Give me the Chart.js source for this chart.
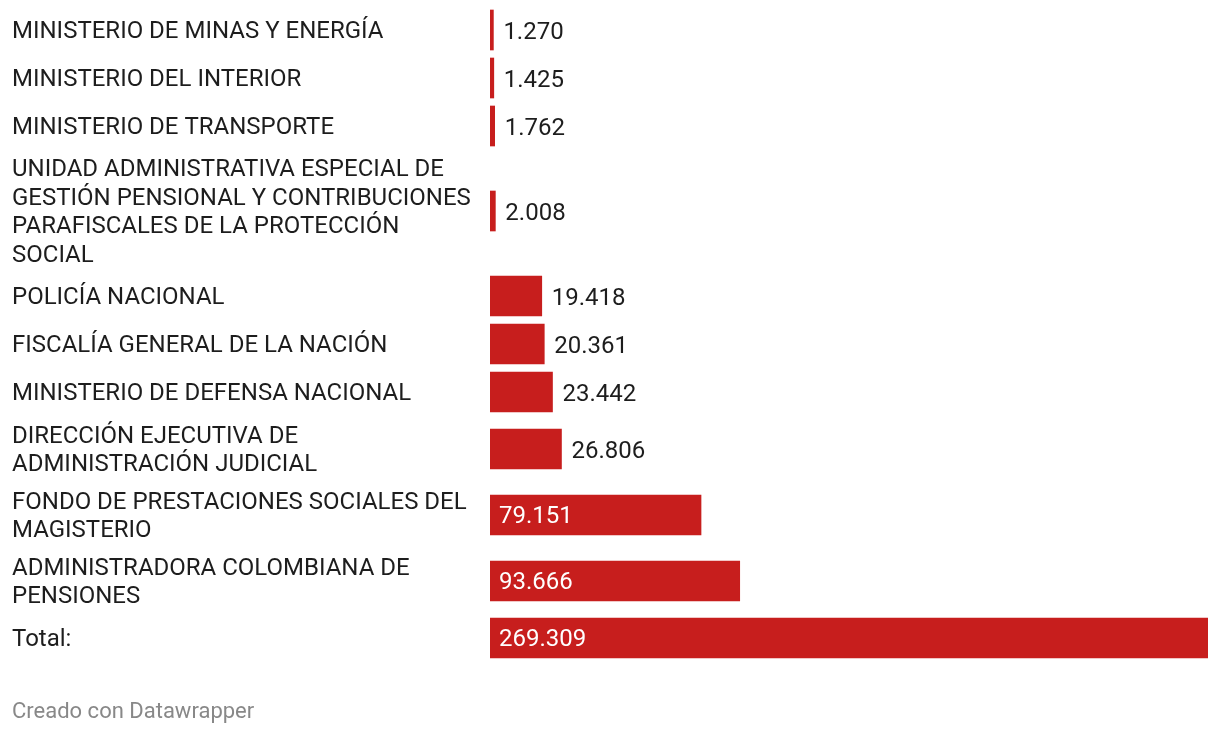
<!DOCTYPE html>
<html>
<head>
<meta charset="utf-8">
<script src="https://cdn.jsdelivr.net/npm/chart.js@4"></script>
<style>
  html, body { margin: 0; padding: 0; background: #fff; }
  #wrap { position: relative; width: 1220px; height: 734px; }
  #footer { position: absolute; left: 12px; top: 698px; font-family: Roboto, sans-serif; font-size: 22px; color: #888; }
</style>
</head>
<body>
<div id="wrap">
  <canvas id="chart" width="1220" height="734"></canvas>
  <div id="footer">Creado con Datawrapper</div>
</div>
<script>
// Categories (one array of lines per row, as wrapped in the original)
const categories = [
    ["MINISTERIO DE MINAS Y ENERGÍA"],
    ["MINISTERIO DEL INTERIOR"],
    ["MINISTERIO DE TRANSPORTE"],
    ["UNIDAD ADMINISTRATIVA ESPECIAL DE", "GESTIÓN PENSIONAL Y CONTRIBUCIONES", "PARAFISCALES DE LA PROTECCIÓN", "SOCIAL"],
    ["POLICÍA NACIONAL"],
    ["FISCALÍA GENERAL DE LA NACIÓN"],
    ["MINISTERIO DE DEFENSA NACIONAL"],
    ["DIRECCIÓN EJECUTIVA DE", "ADMINISTRACIÓN JUDICIAL"],
    ["FONDO DE PRESTACIONES SOCIALES DEL", "MAGISTERIO"],
    ["ADMINISTRADORA COLOMBIANA DE", "PENSIONES"],
    ["Total:"]
];
const values = [1270, 1425, 1762, 2008, 19418, 20361, 23442, 26806, 79151, 93666, 269309];

const barColor = "#c71e1d";
const textColor = "#1d1d1d";
const fontFamily = "Roboto, sans-serif";

// Row heights depend on how many lines the label takes
const rowHeights = categories.map(lines => Math.max(48, lines.length * 28 + 10));
const rowCenters = [];
let acc = 0;
rowHeights.forEach(h => { rowCenters.push(acc + h / 2); acc += h; });
const totalHeight = acc;

function formatNum(v) {
    return v.toLocaleString("de-DE");
}

// Value labels: white inside the bar if it fits, otherwise dark after the bar
const valueLabels = {
    id: "valueLabels",
    afterDatasetsDraw(chart) {
        const ctx = chart.ctx;
        const meta = chart.getDatasetMeta(0);
        ctx.save();
        ctx.font = "24px " + fontFamily;
        ctx.textBaseline = "middle";
        ctx.textAlign = "left";
        meta.data.forEach((bar, i) => {
            const txt = formatNum(values[i]);
            const w = ctx.measureText(txt).width;
            const barW = bar.x - bar.base;
            if (w + 20 < barW) {
                ctx.fillStyle = "#ffffff";
                ctx.fillText(txt, bar.base + 9, bar.y + 2);
            } else {
                ctx.fillStyle = textColor;
                ctx.fillText(txt, bar.x + 10, bar.y + 3);
            }
        });
        ctx.restore();
    }
};

new Chart(document.getElementById("chart"), {
    type: "bar",
    data: {
        datasets: [{
            data: values.map((v, i) => ({ x: v, y: rowCenters[i] })),
            backgroundColor: barColor,
            barThickness: 40,
            borderWidth: 0
        }]
    },
    options: {
        indexAxis: "y",
        responsive: false,
        animation: false,
        layout: { padding: { left: 12, right: 12, top: 6, bottom: 72 } },
        plugins: { legend: { display: false }, tooltip: { enabled: false } },
        scales: {
            x: {
                type: "linear",
                min: 0,
                max: 269309,
                display: false
            },
            y: {
                type: "linear",
                reverse: true,
                offset: false,
                min: 0,
                max: totalHeight,
                grid: { display: false, drawTicks: false, offset: false },
                border: { display: false },
                afterBuildTicks(scale) {
                    scale.ticks = rowCenters.map(v => ({ value: v }));
                },
                afterFit(scale) {
                    scale.width = 478;
                    scale.paddingTop = 0;
                    scale.paddingBottom = 0;
                },
                ticks: {
                    autoSkip: false,
                    crossAlign: "far",
                    padding: 0,
                    labelOffset: 2,
                    color: textColor,
                    font: { family: fontFamily, size: 24, lineHeight: 1.19 },
                    callback: (value, index) => categories[index]
                }
            }
        }
    },
    plugins: [valueLabels]
});
</script>
</body>
</html>
